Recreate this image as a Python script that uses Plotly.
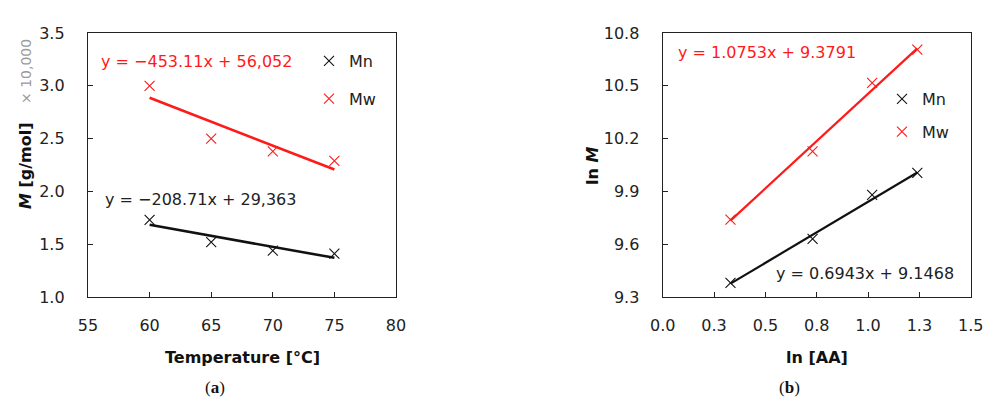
import plotly.graph_objects as go

# ---- Panel (a): molar mass vs temperature ----
temp_c = [60, 65, 70, 75]
mn_a = [17300, 15200, 14400, 14100]      # g/mol
mw_a = [30000, 25000, 23800, 22900]      # g/mol
fit_mn_a = (-208.71, 29363)
fit_mw_a = (-453.11, 56052)
scale_a = 10000

# ---- Panel (b): ln M vs ln [AA] ----
ln_aa = [0.33, 0.73, 1.02, 1.24]
ln_mn_b = [9.38, 9.63, 9.88, 10.005]
ln_mw_b = [9.74, 10.127, 10.516, 10.705]
fit_mn_b = (0.6943, 9.1468)
fit_mw_b = (1.0753, 9.3791)

xticks_b = [0, 0.25, 0.5, 0.75, 1.0, 1.25, 1.5]
xticktext_b = ["0.0", "0.3", "0.5", "0.8", "1.0", "1.3", "1.5"]
yticks_b = [9.3, 9.6, 9.9, 10.2, 10.5, 10.8]

RED = "#ff1a1a"
BLK = "#111111"
FONT = "DejaVu Sans"

# page body has an 8px margin; size the figure so it fits the 1001x407 window
OFF = 8
W, H = 1001 - 2 * OFF, 407 - 2 * OFF
def px(x): return (x - OFF) / W
def py(y): return 1 - (y - OFF) / H

fig = go.Figure()

def line_pts(xs, fit, scale=1.0):
    x0, x1 = xs[0], xs[-1]
    return [x0, x1], [(fit[0] * x0 + fit[1]) / scale, (fit[0] * x1 + fit[1]) / scale]

# Panel a traces
lx, ly = line_pts(temp_c, fit_mw_a, scale_a)
fig.add_trace(go.Scatter(x=lx, y=ly, mode="lines", line=dict(color=RED, width=2.6),
                         showlegend=False, xaxis="x", yaxis="y"))
lx, ly = line_pts(temp_c, fit_mn_a, scale_a)
fig.add_trace(go.Scatter(x=lx, y=ly, mode="lines", line=dict(color=BLK, width=2.6),
                         showlegend=False, xaxis="x", yaxis="y"))
fig.add_trace(go.Scatter(x=temp_c, y=[v / scale_a for v in mn_a], mode="markers", name="Mn",
                         marker=dict(symbol="x-thin", size=10, line=dict(color=BLK, width=1.1)),
                         xaxis="x", yaxis="y", legend="legend", legendgroup="a1"))
fig.add_trace(go.Scatter(x=temp_c, y=[v / scale_a for v in mw_a], mode="markers", name="Mw",
                         marker=dict(symbol="x-thin", size=10, line=dict(color=RED, width=1.1)),
                         xaxis="x", yaxis="y", legend="legend", legendgroup="a2"))

# Panel b traces
lx, ly = line_pts(ln_aa, fit_mw_b)
fig.add_trace(go.Scatter(x=lx, y=ly, mode="lines", line=dict(color=RED, width=2.2),
                         showlegend=False, xaxis="x2", yaxis="y2"))
lx, ly = line_pts(ln_aa, fit_mn_b)
fig.add_trace(go.Scatter(x=lx, y=ly, mode="lines", line=dict(color=BLK, width=2.2),
                         showlegend=False, xaxis="x2", yaxis="y2"))
fig.add_trace(go.Scatter(x=ln_aa, y=ln_mn_b, mode="markers", name="Mn",
                         marker=dict(symbol="x-thin", size=10, line=dict(color=BLK, width=1.1)),
                         xaxis="x2", yaxis="y2", legend="legend2", legendgroup="b1"))
fig.add_trace(go.Scatter(x=ln_aa, y=ln_mw_b, mode="markers", name="Mw",
                         marker=dict(symbol="x-thin", size=10, line=dict(color=RED, width=1.1)),
                         xaxis="x2", yaxis="y2", legend="legend2", legendgroup="b2"))

axis_common = dict(showline=True, mirror=True, linecolor="#222", linewidth=1.3,
                   ticks="inside", ticklen=5, tickcolor="#222", tickwidth=1,
                   showgrid=False, zeroline=False, automargin=False,
                   tickfont=dict(family=FONT, size=16, color="#222"))
xstand = dict(ticklabelstandoff=14)
ystand = dict(ticklabelstandoff=19)

dom_y = [py(297), py(33)]
fig.update_layout(
    width=W, height=H, margin=dict(l=0, r=0, t=0, b=0, pad=0),
    paper_bgcolor="white", plot_bgcolor="white",
    font=dict(family=FONT, size=16, color="#222"),
    xaxis=dict(domain=[px(88), px(396)], range=[55, 80], dtick=5, tick0=55, anchor="y",
               **axis_common, **xstand),
    yaxis=dict(domain=dom_y, range=[1.0, 3.5], dtick=0.5, tick0=1.0, tickformat=".1f", anchor="x",
               **axis_common, **ystand),
    xaxis2=dict(domain=[px(662.7), px(970.7)], range=[0, 1.5], tickvals=xticks_b, ticktext=xticktext_b,
                anchor="y2", **axis_common, **xstand),
    yaxis2=dict(domain=dom_y, range=[9.3, 10.8], tickvals=yticks_b, tickformat=".1f", anchor="x2",
                **axis_common, **ystand),
    legend=dict(x=px(309), y=py(44), xanchor="left", yanchor="top", bgcolor="rgba(0,0,0,0)",
                font=dict(family=FONT, size=16, color="#222"), tracegroupgap=14, itemwidth=30),
    legend2=dict(x=px(882), y=py(82), xanchor="left", yanchor="top", bgcolor="rgba(0,0,0,0)",
                 font=dict(family=FONT, size=16, color="#222"), tracegroupgap=9, itemwidth=30),
)

ann = []
def A(text, x, y, **kw):
    d = dict(text=text, x=px(x), y=py(y), xref="paper", yref="paper", showarrow=False,
             font=dict(family=FONT, size=16, color="#222"))
    d.update(kw)
    ann.append(d)

A("y = \u2212453.11x + 56,052", 99, 61, xanchor="left", yanchor="middle", font=dict(family=FONT, size=16, color=RED))
A("y = \u2212208.71x + 29,363", 103, 199, xanchor="left", yanchor="middle")
A("y = 1.0753x + 9.3791", 676, 53, xanchor="left", yanchor="middle", font=dict(family=FONT, size=16, color=RED))
A("y = 0.6943x + 9.1468", 774, 273, xanchor="left", yanchor="middle")

A("<b><i>M</i> [g/mol]</b>", 25, 166, textangle=-90, xanchor="center", yanchor="middle",
  font=dict(family=FONT, size=16, color="#111"))
A("\u00d7 10,000", 26, 72, textangle=-90, xanchor="center", yanchor="middle",
  font=dict(family=FONT, size=14, color="#9a9a9a"))
A("<b>Temperature [°C]</b>", 242, 357, xanchor="center", yanchor="middle",
  font=dict(family=FONT, size=16, color="#111"))
A("<b>ln <i>M</i></b>", 592, 166, textangle=-90, xanchor="center", yanchor="middle",
  font=dict(family=FONT, size=16, color="#111"))
A("<b>ln [AA]</b>", 817, 357, xanchor="center", yanchor="middle",
  font=dict(family=FONT, size=16, color="#111"))
A("(<b>a</b>)", 215, 387, xanchor="center", yanchor="middle",
  font=dict(family="Liberation Serif", size=17, color="#111"))
A("(<b>b</b>)", 789, 387, xanchor="center", yanchor="middle",
  font=dict(family="Liberation Serif", size=17, color="#111"))
fig.update_layout(annotations=ann)

fig.write_html("out.html")
